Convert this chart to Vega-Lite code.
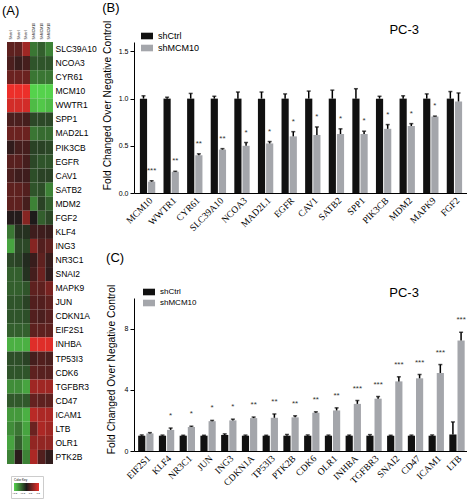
{
  "$schema": "https://vega.github.io/schema/vega-lite/v6.json",
  "padding": {"left": 2, "top": 2, "right": 0, "bottom": 0},
  "background": "white",
  "config": {
    "view": {"stroke": null},
    "font": "Liberation Sans",
    "axis": {"grid": false, "domainColor": "#000", "tickColor": "#000", "labelColor": "#000", "titleColor": "#000", "labelFont": "Liberation Sans", "titleFont": "Liberation Sans"},
    "title": {"font": "Liberation Sans", "fontWeight": "normal", "color": "#000"},
    "legend": {"labelFont": "Liberation Sans", "titleFont": "Liberation Sans", "labelColor": "#000"}
  },
  "datasets": {
    "heat": [
      {"gene":"SLC39A10","sample":"Shctrl-1","value":0.5},{"gene":"SLC39A10","sample":"Shctrl-2","value":0.5},{"gene":"SLC39A10","sample":"Shctrl-3","value":1.0},{"gene":"SLC39A10","sample":"ShMCM10-1","value":-0.8},{"gene":"SLC39A10","sample":"ShMCM10-2","value":-0.6},{"gene":"SLC39A10","sample":"ShMCM10-3","value":-0.9},
      {"gene":"NCOA3","sample":"Shctrl-1","value":0.35},{"gene":"NCOA3","sample":"Shctrl-2","value":0.2},{"gene":"NCOA3","sample":"Shctrl-3","value":0.3},{"gene":"NCOA3","sample":"ShMCM10-1","value":-0.5},{"gene":"NCOA3","sample":"ShMCM10-2","value":-0.5},{"gene":"NCOA3","sample":"ShMCM10-3","value":-0.5},
      {"gene":"CYR61","sample":"Shctrl-1","value":0.6},{"gene":"CYR61","sample":"Shctrl-2","value":0.6},{"gene":"CYR61","sample":"Shctrl-3","value":0.6},{"gene":"CYR61","sample":"ShMCM10-1","value":-0.8},{"gene":"CYR61","sample":"ShMCM10-2","value":-0.8},{"gene":"CYR61","sample":"ShMCM10-3","value":-0.8},
      {"gene":"MCM10","sample":"Shctrl-1","value":1.7},{"gene":"MCM10","sample":"Shctrl-2","value":1.7},{"gene":"MCM10","sample":"Shctrl-3","value":1.7},{"gene":"MCM10","sample":"ShMCM10-1","value":-1.6},{"gene":"MCM10","sample":"ShMCM10-2","value":-1.6},{"gene":"MCM10","sample":"ShMCM10-3","value":-1.6},
      {"gene":"WWTR1","sample":"Shctrl-1","value":1.4},{"gene":"WWTR1","sample":"Shctrl-2","value":1.4},{"gene":"WWTR1","sample":"Shctrl-3","value":1.4},{"gene":"WWTR1","sample":"ShMCM10-1","value":-1.4},{"gene":"WWTR1","sample":"ShMCM10-2","value":-1.5},{"gene":"WWTR1","sample":"ShMCM10-3","value":-1.4},
      {"gene":"SPP1","sample":"Shctrl-1","value":0.35},{"gene":"SPP1","sample":"Shctrl-2","value":0.35},{"gene":"SPP1","sample":"Shctrl-3","value":0.3},{"gene":"SPP1","sample":"ShMCM10-1","value":-0.4},{"gene":"SPP1","sample":"ShMCM10-2","value":-0.4},{"gene":"SPP1","sample":"ShMCM10-3","value":-0.4},
      {"gene":"MAD2L1","sample":"Shctrl-1","value":0.6},{"gene":"MAD2L1","sample":"Shctrl-2","value":0.6},{"gene":"MAD2L1","sample":"Shctrl-3","value":0.6},{"gene":"MAD2L1","sample":"ShMCM10-1","value":-0.8},{"gene":"MAD2L1","sample":"ShMCM10-2","value":-0.7},{"gene":"MAD2L1","sample":"ShMCM10-3","value":-0.7},
      {"gene":"PIK3CB","sample":"Shctrl-1","value":0.15},{"gene":"PIK3CB","sample":"Shctrl-2","value":0.3},{"gene":"PIK3CB","sample":"Shctrl-3","value":0.3},{"gene":"PIK3CB","sample":"ShMCM10-1","value":-0.35},{"gene":"PIK3CB","sample":"ShMCM10-2","value":-0.35},{"gene":"PIK3CB","sample":"ShMCM10-3","value":-0.4},
      {"gene":"EGFR","sample":"Shctrl-1","value":0.45},{"gene":"EGFR","sample":"Shctrl-2","value":0.45},{"gene":"EGFR","sample":"Shctrl-3","value":0.3},{"gene":"EGFR","sample":"ShMCM10-1","value":-0.4},{"gene":"EGFR","sample":"ShMCM10-2","value":-0.5},{"gene":"EGFR","sample":"ShMCM10-3","value":-0.5},
      {"gene":"CAV1","sample":"Shctrl-1","value":0.35},{"gene":"CAV1","sample":"Shctrl-2","value":0.25},{"gene":"CAV1","sample":"Shctrl-3","value":0.25},{"gene":"CAV1","sample":"ShMCM10-1","value":-0.45},{"gene":"CAV1","sample":"ShMCM10-2","value":-0.35},{"gene":"CAV1","sample":"ShMCM10-3","value":-0.35},
      {"gene":"SATB2","sample":"Shctrl-1","value":0.5},{"gene":"SATB2","sample":"Shctrl-2","value":0.5},{"gene":"SATB2","sample":"Shctrl-3","value":0.4},{"gene":"SATB2","sample":"ShMCM10-1","value":-0.5},{"gene":"SATB2","sample":"ShMCM10-2","value":-0.45},{"gene":"SATB2","sample":"ShMCM10-3","value":-0.9},
      {"gene":"MDM2","sample":"Shctrl-1","value":0.5},{"gene":"MDM2","sample":"Shctrl-2","value":0.5},{"gene":"MDM2","sample":"Shctrl-3","value":0.3},{"gene":"MDM2","sample":"ShMCM10-1","value":-0.9},{"gene":"MDM2","sample":"ShMCM10-2","value":-0.35},{"gene":"MDM2","sample":"ShMCM10-3","value":-0.6},
      {"gene":"FGF2","sample":"Shctrl-1","value":0.05},{"gene":"FGF2","sample":"Shctrl-2","value":0.05},{"gene":"FGF2","sample":"Shctrl-3","value":0.8},{"gene":"FGF2","sample":"ShMCM10-1","value":0.0},{"gene":"FGF2","sample":"ShMCM10-2","value":-0.6},{"gene":"FGF2","sample":"ShMCM10-3","value":-0.4},
      {"gene":"KLF4","sample":"Shctrl-1","value":-0.8},{"gene":"KLF4","sample":"Shctrl-2","value":-0.2},{"gene":"KLF4","sample":"Shctrl-3","value":-0.2},{"gene":"KLF4","sample":"ShMCM10-1","value":0.25},{"gene":"KLF4","sample":"ShMCM10-2","value":0.25},{"gene":"KLF4","sample":"ShMCM10-3","value":0.2},
      {"gene":"ING3","sample":"Shctrl-1","value":-1.2},{"gene":"ING3","sample":"Shctrl-2","value":-0.4},{"gene":"ING3","sample":"Shctrl-3","value":-0.4},{"gene":"ING3","sample":"ShMCM10-1","value":0.8},{"gene":"ING3","sample":"ShMCM10-2","value":0.4},{"gene":"ING3","sample":"ShMCM10-3","value":0.5},
      {"gene":"NR3C1","sample":"Shctrl-1","value":-0.4},{"gene":"NR3C1","sample":"Shctrl-2","value":-0.35},{"gene":"NR3C1","sample":"Shctrl-3","value":-0.15},{"gene":"NR3C1","sample":"ShMCM10-1","value":0.2},{"gene":"NR3C1","sample":"ShMCM10-2","value":0.5},{"gene":"NR3C1","sample":"ShMCM10-3","value":0.2},
      {"gene":"SNAI2","sample":"Shctrl-1","value":-0.6},{"gene":"SNAI2","sample":"Shctrl-2","value":-0.6},{"gene":"SNAI2","sample":"Shctrl-3","value":-0.2},{"gene":"SNAI2","sample":"ShMCM10-1","value":0.3},{"gene":"SNAI2","sample":"ShMCM10-2","value":0.6},{"gene":"SNAI2","sample":"ShMCM10-3","value":0.15},
      {"gene":"MAPK9","sample":"Shctrl-1","value":-0.6},{"gene":"MAPK9","sample":"Shctrl-2","value":-0.6},{"gene":"MAPK9","sample":"Shctrl-3","value":-0.5},{"gene":"MAPK9","sample":"ShMCM10-1","value":0.5},{"gene":"MAPK9","sample":"ShMCM10-2","value":0.5},{"gene":"MAPK9","sample":"ShMCM10-3","value":0.7},
      {"gene":"JUN","sample":"Shctrl-1","value":-0.5},{"gene":"JUN","sample":"Shctrl-2","value":-0.5},{"gene":"JUN","sample":"Shctrl-3","value":-0.35},{"gene":"JUN","sample":"ShMCM10-1","value":0.4},{"gene":"JUN","sample":"ShMCM10-2","value":0.4},{"gene":"JUN","sample":"ShMCM10-3","value":0.5},
      {"gene":"CDKN1A","sample":"Shctrl-1","value":-0.5},{"gene":"CDKN1A","sample":"Shctrl-2","value":-0.5},{"gene":"CDKN1A","sample":"Shctrl-3","value":-0.45},{"gene":"CDKN1A","sample":"ShMCM10-1","value":0.4},{"gene":"CDKN1A","sample":"ShMCM10-2","value":0.35},{"gene":"CDKN1A","sample":"ShMCM10-3","value":0.45},
      {"gene":"EIF2S1","sample":"Shctrl-1","value":-0.6},{"gene":"EIF2S1","sample":"Shctrl-2","value":-0.6},{"gene":"EIF2S1","sample":"Shctrl-3","value":-0.6},{"gene":"EIF2S1","sample":"ShMCM10-1","value":0.5},{"gene":"EIF2S1","sample":"ShMCM10-2","value":0.5},{"gene":"EIF2S1","sample":"ShMCM10-3","value":0.5},
      {"gene":"INHBA","sample":"Shctrl-1","value":-1.3},{"gene":"INHBA","sample":"Shctrl-2","value":-1.3},{"gene":"INHBA","sample":"Shctrl-3","value":-1.3},{"gene":"INHBA","sample":"ShMCM10-1","value":1.5},{"gene":"INHBA","sample":"ShMCM10-2","value":1.5},{"gene":"INHBA","sample":"ShMCM10-3","value":1.5},
      {"gene":"TP53I3","sample":"Shctrl-1","value":-0.45},{"gene":"TP53I3","sample":"Shctrl-2","value":-0.45},{"gene":"TP53I3","sample":"Shctrl-3","value":-0.35},{"gene":"TP53I3","sample":"ShMCM10-1","value":0.3},{"gene":"TP53I3","sample":"ShMCM10-2","value":0.4},{"gene":"TP53I3","sample":"ShMCM10-3","value":0.35},
      {"gene":"CDK6","sample":"Shctrl-1","value":-0.5},{"gene":"CDK6","sample":"Shctrl-2","value":-0.5},{"gene":"CDK6","sample":"Shctrl-3","value":-0.5},{"gene":"CDK6","sample":"ShMCM10-1","value":0.5},{"gene":"CDK6","sample":"ShMCM10-2","value":0.45},{"gene":"CDK6","sample":"ShMCM10-3","value":0.45},
      {"gene":"TGFBR3","sample":"Shctrl-1","value":-1.0},{"gene":"TGFBR3","sample":"Shctrl-2","value":-1.0},{"gene":"TGFBR3","sample":"Shctrl-3","value":-1.2},{"gene":"TGFBR3","sample":"ShMCM10-1","value":1.0},{"gene":"TGFBR3","sample":"ShMCM10-2","value":1.0},{"gene":"TGFBR3","sample":"ShMCM10-3","value":1.0},
      {"gene":"CD47","sample":"Shctrl-1","value":-0.55},{"gene":"CD47","sample":"Shctrl-2","value":-0.55},{"gene":"CD47","sample":"Shctrl-3","value":-0.55},{"gene":"CD47","sample":"ShMCM10-1","value":0.55},{"gene":"CD47","sample":"ShMCM10-2","value":0.5},{"gene":"CD47","sample":"ShMCM10-3","value":0.5},
      {"gene":"ICAM1","sample":"Shctrl-1","value":-1.1},{"gene":"ICAM1","sample":"Shctrl-2","value":-1.1},{"gene":"ICAM1","sample":"Shctrl-3","value":-1.3},{"gene":"ICAM1","sample":"ShMCM10-1","value":1.2},{"gene":"ICAM1","sample":"ShMCM10-2","value":1.1},{"gene":"ICAM1","sample":"ShMCM10-3","value":1.1},
      {"gene":"LTB","sample":"Shctrl-1","value":-1.0},{"gene":"LTB","sample":"Shctrl-2","value":-0.8},{"gene":"LTB","sample":"Shctrl-3","value":-1.2},{"gene":"LTB","sample":"ShMCM10-1","value":0.6},{"gene":"LTB","sample":"ShMCM10-2","value":1.1},{"gene":"LTB","sample":"ShMCM10-3","value":1.0},
      {"gene":"OLR1","sample":"Shctrl-1","value":-1.2},{"gene":"OLR1","sample":"Shctrl-2","value":-0.6},{"gene":"OLR1","sample":"Shctrl-3","value":-1.1},{"gene":"OLR1","sample":"ShMCM10-1","value":0.9},{"gene":"OLR1","sample":"ShMCM10-2","value":0.9},{"gene":"OLR1","sample":"ShMCM10-3","value":0.9},
      {"gene":"PTK2B","sample":"Shctrl-1","value":-0.9},{"gene":"PTK2B","sample":"Shctrl-2","value":0.1},{"gene":"PTK2B","sample":"Shctrl-3","value":-0.9},{"gene":"PTK2B","sample":"ShMCM10-1","value":1.1},{"gene":"PTK2B","sample":"ShMCM10-2","value":0.4},{"gene":"PTK2B","sample":"ShMCM10-3","value":0.15}
    ],
    "down": [
      {"gene":"MCM10","group":"shCtrl","value":1.0,"hi":1.03,"sig":""},
      {"gene":"MCM10","group":"shMCM10","value":0.12,"hi":0.13,"sig":"***"},
      {"gene":"WWTR1","group":"shCtrl","value":1.0,"hi":1.015,"sig":""},
      {"gene":"WWTR1","group":"shMCM10","value":0.225,"hi":0.23,"sig":"**"},
      {"gene":"CYR61","group":"shCtrl","value":1.0,"hi":1.055,"sig":""},
      {"gene":"CYR61","group":"shMCM10","value":0.4,"hi":0.415,"sig":"**"},
      {"gene":"SLC39A10","group":"shCtrl","value":1.0,"hi":1.025,"sig":""},
      {"gene":"SLC39A10","group":"shMCM10","value":0.46,"hi":0.47,"sig":"**"},
      {"gene":"NCOA3","group":"shCtrl","value":1.0,"hi":1.07,"sig":""},
      {"gene":"NCOA3","group":"shMCM10","value":0.5,"hi":0.535,"sig":"*"},
      {"gene":"MAD2L1","group":"shCtrl","value":1.0,"hi":1.07,"sig":""},
      {"gene":"MAD2L1","group":"shMCM10","value":0.525,"hi":0.545,"sig":"*"},
      {"gene":"EGFR","group":"shCtrl","value":1.0,"hi":1.05,"sig":""},
      {"gene":"EGFR","group":"shMCM10","value":0.6,"hi":0.65,"sig":"*"},
      {"gene":"CAV1","group":"shCtrl","value":1.0,"hi":1.08,"sig":""},
      {"gene":"CAV1","group":"shMCM10","value":0.615,"hi":0.7,"sig":"*"},
      {"gene":"SATB2","group":"shCtrl","value":1.0,"hi":1.09,"sig":""},
      {"gene":"SATB2","group":"shMCM10","value":0.625,"hi":0.68,"sig":"*"},
      {"gene":"SPP1","group":"shCtrl","value":1.0,"hi":1.105,"sig":""},
      {"gene":"SPP1","group":"shMCM10","value":0.625,"hi":0.655,"sig":"*"},
      {"gene":"PIK3CB","group":"shCtrl","value":1.0,"hi":1.025,"sig":""},
      {"gene":"PIK3CB","group":"shMCM10","value":0.68,"hi":0.725,"sig":"*"},
      {"gene":"MDM2","group":"shCtrl","value":1.0,"hi":1.03,"sig":""},
      {"gene":"MDM2","group":"shMCM10","value":0.71,"hi":0.735,"sig":"*"},
      {"gene":"MAPK9","group":"shCtrl","value":1.0,"hi":1.05,"sig":""},
      {"gene":"MAPK9","group":"shMCM10","value":0.81,"hi":0.815,"sig":"*"},
      {"gene":"FGF2","group":"shCtrl","value":1.0,"hi":1.075,"sig":""},
      {"gene":"FGF2","group":"shMCM10","value":0.97,"hi":1.06,"sig":""}
    ],
    "up": [
      {"gene":"EIF2S1","group":"shCtrl","value":1.0,"hi":1.05,"sig":""},
      {"gene":"EIF2S1","group":"shMCM10","value":1.15,"hi":1.2,"sig":""},
      {"gene":"KLF4","group":"shCtrl","value":1.0,"hi":1.04,"sig":""},
      {"gene":"KLF4","group":"shMCM10","value":1.38,"hi":1.5,"sig":"*"},
      {"gene":"NR3C1","group":"shCtrl","value":1.0,"hi":1.03,"sig":""},
      {"gene":"NR3C1","group":"shMCM10","value":1.57,"hi":1.62,"sig":"*"},
      {"gene":"JUN","group":"shCtrl","value":1.0,"hi":1.03,"sig":""},
      {"gene":"JUN","group":"shMCM10","value":1.95,"hi":2.0,"sig":"*"},
      {"gene":"ING3","group":"shCtrl","value":1.05,"hi":1.12,"sig":""},
      {"gene":"ING3","group":"shMCM10","value":2.0,"hi":2.08,"sig":"*"},
      {"gene":"CDKN1A","group":"shCtrl","value":1.0,"hi":1.04,"sig":""},
      {"gene":"CDKN1A","group":"shMCM10","value":2.15,"hi":2.22,"sig":"**"},
      {"gene":"TP53I3","group":"shCtrl","value":1.0,"hi":1.03,"sig":""},
      {"gene":"TP53I3","group":"shMCM10","value":2.17,"hi":2.42,"sig":"**"},
      {"gene":"PTK2B","group":"shCtrl","value":1.0,"hi":1.08,"sig":""},
      {"gene":"PTK2B","group":"shMCM10","value":2.2,"hi":2.3,"sig":"**"},
      {"gene":"CDK6","group":"shCtrl","value":1.0,"hi":1.05,"sig":""},
      {"gene":"CDK6","group":"shMCM10","value":2.5,"hi":2.56,"sig":"**"},
      {"gene":"OLR1","group":"shCtrl","value":1.0,"hi":1.04,"sig":""},
      {"gene":"OLR1","group":"shMCM10","value":2.65,"hi":2.82,"sig":"**"},
      {"gene":"INHBA","group":"shCtrl","value":1.0,"hi":1.04,"sig":""},
      {"gene":"INHBA","group":"shMCM10","value":3.08,"hi":3.3,"sig":"***"},
      {"gene":"TGFBR3","group":"shCtrl","value":1.0,"hi":1.07,"sig":""},
      {"gene":"TGFBR3","group":"shMCM10","value":3.42,"hi":3.56,"sig":"***"},
      {"gene":"SNAI2","group":"shCtrl","value":1.0,"hi":1.03,"sig":""},
      {"gene":"SNAI2","group":"shMCM10","value":4.55,"hi":4.85,"sig":"***"},
      {"gene":"CD47","group":"shCtrl","value":1.0,"hi":1.04,"sig":""},
      {"gene":"CD47","group":"shMCM10","value":4.75,"hi":5.0,"sig":"***"},
      {"gene":"ICAM1","group":"shCtrl","value":1.0,"hi":1.05,"sig":""},
      {"gene":"ICAM1","group":"shMCM10","value":5.1,"hi":5.65,"sig":"***"},
      {"gene":"LTB","group":"shCtrl","value":1.08,"hi":1.9,"sig":""},
      {"gene":"LTB","group":"shMCM10","value":7.22,"hi":7.76,"sig":"***"}
    ]
  },
  "spacing": 5,
  "resolve": {"scale": {"color": "independent"}, "legend": {"color": "independent"}},
  "hconcat": [
    {
      "vconcat": [
        {
          "width": 46,
          "height": 422,
          "title": {"text": "(A)", "anchor": "start", "fontSize": 13, "dx": -5, "offset": 4},
          "data": {"name": "heat"},
          "mark": {"type": "rect"},
          "encoding": {
            "x": {"field": "sample", "type": "nominal", "sort": null, "title": null,
                  "axis": {"orient": "top", "labelAngle": -90, "labelFontSize": 3.5, "ticks": false, "domain": false, "labelPadding": 3, "labelExpr": "split(datum.value, '-')[0]", "labelAlign": "left", "labelBaseline": "middle"}},
            "y": {"field": "gene", "type": "nominal", "sort": null, "title": null,
                  "axis": {"orient": "right", "labelFontSize": 8.5, "ticks": false, "domain": false, "labelPadding": 2}},
            "color": {"field": "value", "type": "quantitative",
                      "scale": {"domain": [-1.6, 0, 1.6], "range": ["#55d24c", "#1e1a1a", "#ec2f2a"], "clamp": true, "interpolate": "rgb"},
                      "legend": {"orient": "none", "legendX": 4, "legendY": 434, "direction": "horizontal", "gradientLength": 25, "gradientThickness": 8, "title": "Color Key", "titleFontSize": 3, "titleFontWeight": "normal", "titlePadding": 1, "labelFontSize": 2.5, "labelOffset": 1, "strokeColor": "#cccccc", "padding": 3, "tickCount": 5}}
          }
        }
      ]
    },
    {
      "spacing": 19,
      "resolve": {"scale": {"color": "independent"}, "legend": {"color": "independent"}},
      "vconcat": [
        {
          "width": 334,
          "height": 151,
          "title": {"text": "(B)", "anchor": "start", "fontSize": 13, "dx": 0, "offset": 5},
          "data": {"name": "down"},
          "encoding": {
            "x": {"field": "gene", "type": "nominal", "title": null,
                  "scale": {"domain": ["MCM10","WWTR1","CYR61","SLC39A10","NCOA3","MAD2L1","EGFR","CAV1","SATB2","SPP1","PIK3CB","MDM2","MAPK9","FGF2"], "paddingInner": 0.35, "paddingOuter": 0.25},
                  "axis": {"labelAngle": -45, "labelFont": "Liberation Serif", "labelFontSize": 9.5, "ticks": false, "labelPadding": 2, "labelOverlap": false}}
          },
          "layer": [
            {
              "mark": {"type": "bar"},
              "encoding": {
                "xOffset": {"field": "group", "type": "nominal", "scale": {"domain": ["shCtrl", "shMCM10"], "paddingInner": 0.12}},
                "y": {"field": "value", "type": "quantitative", "scale": {"domain": [0, 1.5]},
                      "axis": {"values": [0, 0.25, 0.5, 0.75, 1, 1.25, 1.5], "labelExpr": "datum.value % 0.5 === 0 ? format(datum.value, '.1f') : ''", "tickSize": {"condition": {"test": "datum.value % 0.5 !== 0", "value": 2}, "value": 4}, "labelFontSize": 7, "labelPadding": 2, "title": "Fold Changed Over Negative Control", "titleFontSize": 10.3, "titleFontWeight": "normal", "titlePadding": 6, "titleY": 63}},
                "color": {"field": "group", "type": "nominal", "scale": {"domain": ["shCtrl", "shMCM10"], "range": ["#111111", "#a4a6ab"]},
                          "legend": {"orient": "none", "legendX": 7, "legendY": -12, "title": null, "symbolType": "M-1,-0.55H1V0.55H-1Z", "symbolSize": 144, "symbolStrokeWidth": 0, "labelFontSize": 9, "rowPadding": 1, "padding": 0, "labelOffset": 5}}
              }
            },
            {
              "mark": {"type": "rule", "color": "#000", "strokeWidth": 1.5},
              "encoding": {
                "xOffset": {"field": "group", "type": "nominal"},
                "y": {"field": "value", "type": "quantitative"},
                "y2": {"field": "hi"}
              }
            },
            {
              "mark": {"type": "tick", "color": "#000", "thickness": 1.5, "size": 4},
              "encoding": {
                "xOffset": {"field": "group", "type": "nominal"},
                "y": {"field": "hi", "type": "quantitative"}
              }
            },
            {
              "transform": [{"filter": "datum.sig != ''"}],
              "mark": {"type": "text", "baseline": "alphabetic", "dy": -8, "fontSize": 8, "color": "#333333"},
              "encoding": {
                "xOffset": {"field": "group", "type": "nominal"},
                "y": {"field": "hi", "type": "quantitative"},
                "text": {"field": "sig"}
              }
            },
            {
              "data": {"values": [{"label": "PC-3"}]},
              "mark": {"type": "text", "fontSize": 13, "baseline": "middle", "align": "center", "dx": -3},
              "encoding": {
                "x": {"datum": "MDM2"},
                "y": {"datum": 1.73},
                "text": {"field": "label"}
              }
            }
          ]
        },
        {
          "width": 334,
          "height": 153,
          "title": {"text": "(C)", "anchor": "start", "fontSize": 13, "dx": 0, "offset": 19},
          "data": {"name": "up"},
          "encoding": {
            "x": {"field": "gene", "type": "nominal", "title": null,
                  "scale": {"domain": ["EIF2S1","KLF4","NR3C1","JUN","ING3","CDKN1A","TP53I3","PTK2B","CDK6","OLR1","INHBA","TGFBR3","SNAI2","CD47","ICAM1","LTB"], "paddingInner": 0.3, "paddingOuter": 0.2},
                  "axis": {"labelAngle": -45, "labelFont": "Liberation Serif", "labelFontSize": 9.5, "ticks": false, "labelPadding": 2, "labelOverlap": false}}
          },
          "layer": [
            {
              "mark": {"type": "bar"},
              "encoding": {
                "xOffset": {"field": "group", "type": "nominal", "scale": {"domain": ["shCtrl", "shMCM10"], "paddingInner": 0.15}},
                "y": {"field": "value", "type": "quantitative", "scale": {"domain": [0, 10]},
                      "axis": {"values": [0, 1, 2, 3, 4, 5, 6, 7, 8, 9, 10], "labelExpr": "datum.value % 2 === 0 ? format(datum.value, 'd') : ''", "tickSize": {"condition": {"test": "datum.value % 2 !== 0", "value": 2}, "value": 4}, "labelFontSize": 7, "labelPadding": 2, "title": "Fold Changed Over Negative Control", "titleFontSize": 10.3, "titleFontWeight": "normal", "titlePadding": 8, "titleY": 71}},
                "color": {"field": "group", "type": "nominal", "scale": {"domain": ["shCtrl", "shMCM10"], "range": ["#111111", "#a4a6ab"]},
                          "legend": {"orient": "none", "legendX": 9, "legendY": -12, "title": null, "symbolType": "M-1,-0.55H1V0.55H-1Z", "symbolSize": 144, "symbolStrokeWidth": 0, "labelFontSize": 8, "rowPadding": 1, "padding": 0, "labelOffset": 5}}
              }
            },
            {
              "mark": {"type": "rule", "color": "#000", "strokeWidth": 1.5},
              "encoding": {
                "xOffset": {"field": "group", "type": "nominal"},
                "y": {"field": "value", "type": "quantitative"},
                "y2": {"field": "hi"}
              }
            },
            {
              "mark": {"type": "tick", "color": "#000", "thickness": 1.5, "size": 4},
              "encoding": {
                "xOffset": {"field": "group", "type": "nominal"},
                "y": {"field": "hi", "type": "quantitative"}
              }
            },
            {
              "transform": [{"filter": "datum.sig != ''"}],
              "mark": {"type": "text", "baseline": "alphabetic", "dy": -10, "fontSize": 8, "color": "#333333"},
              "encoding": {
                "xOffset": {"field": "group", "type": "nominal"},
                "y": {"field": "hi", "type": "quantitative"},
                "text": {"field": "sig"}
              }
            },
            {
              "data": {"values": [{"label": "PC-3"}]},
              "mark": {"type": "text", "fontSize": 13, "baseline": "middle", "align": "center", "dx": -11},
              "encoding": {
                "x": {"datum": "CD47"},
                "y": {"datum": 10.3},
                "text": {"field": "label"}
              }
            }
          ]
        }
      ]
    }
  ]
}
